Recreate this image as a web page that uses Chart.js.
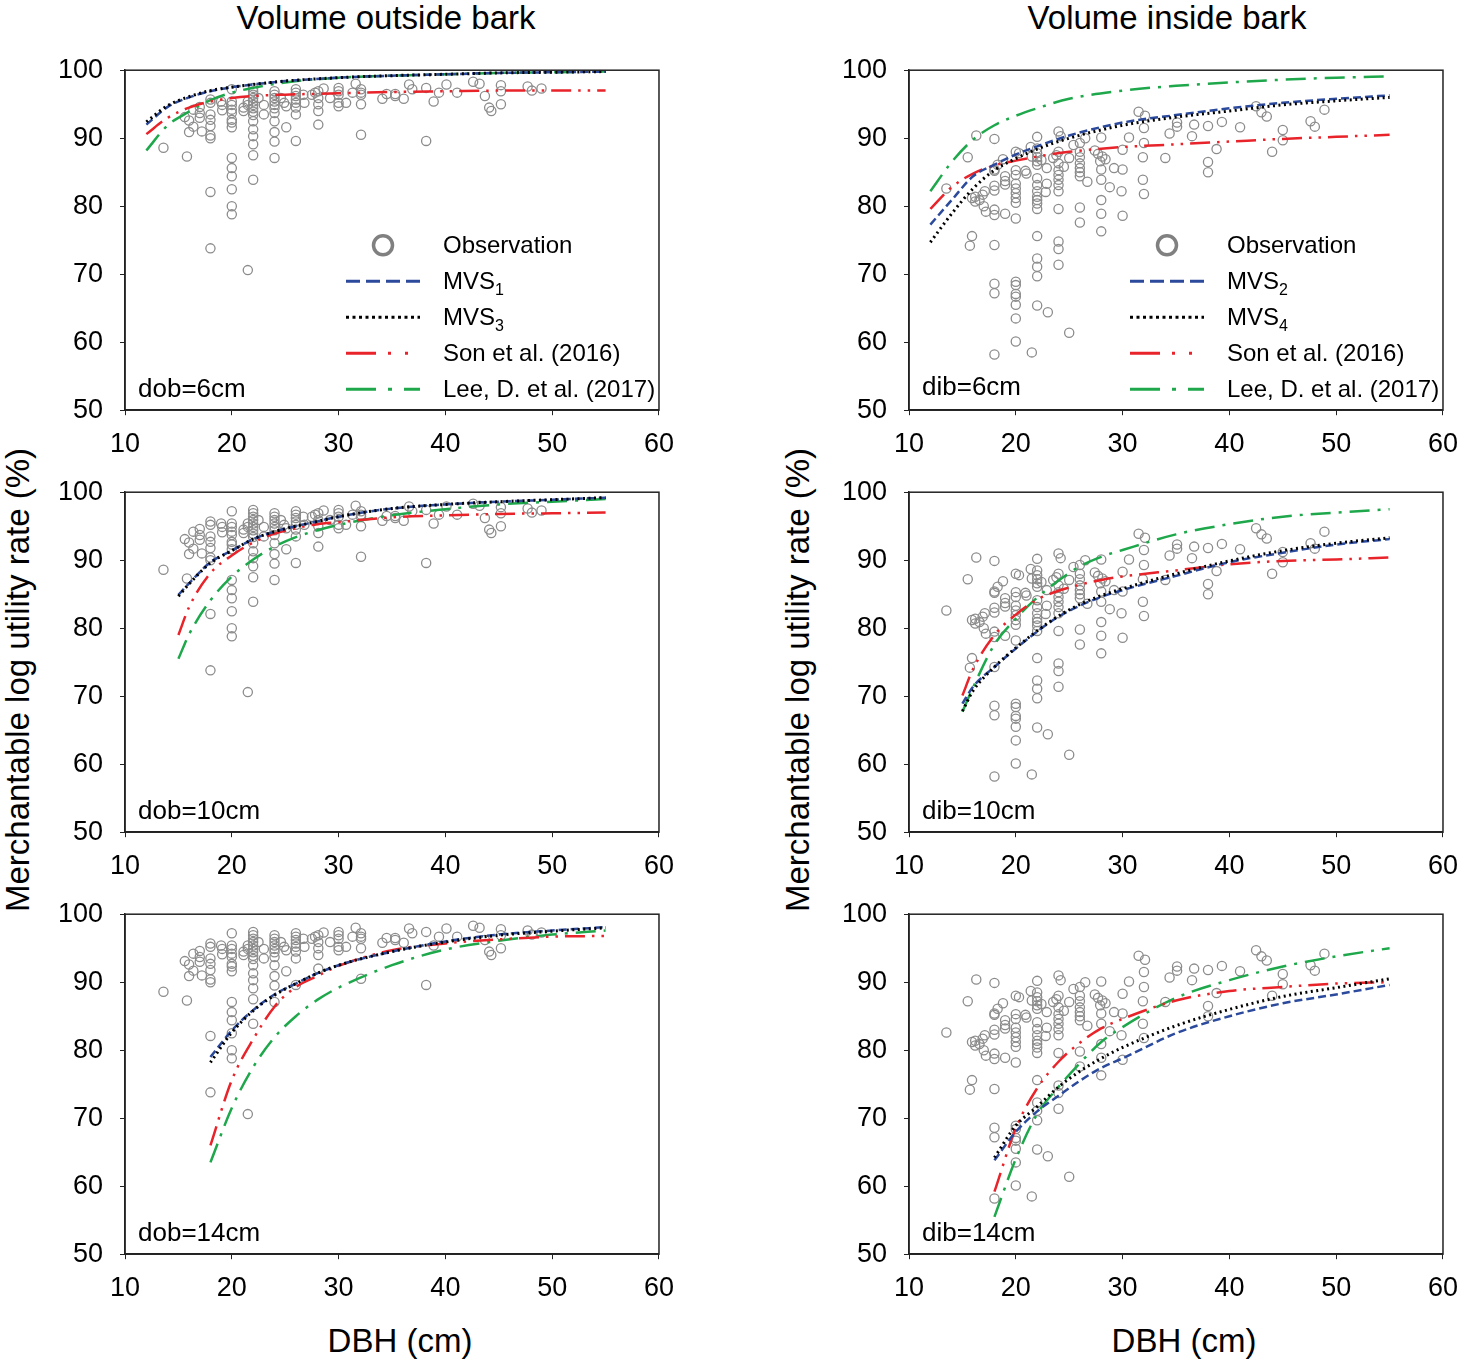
<!DOCTYPE html>
<html>
<head>
<meta charset="utf-8">
<script src="https://cdn.jsdelivr.net/npm/chart.js@4.4.0/dist/chart.umd.min.js"></script>
<style>
    body { margin: 0; background: #fff; overflow: hidden; }
    #fig { position: relative; width: 1460px; height: 1361px; overflow: hidden; font-family: "Liberation Sans", Arial, sans-serif; color: #000; }
    #fig canvas { position: absolute; }
    .txt { position: absolute; white-space: nowrap; line-height: 1; }
    .title { font-size: 33px; transform: translate(-50%, -50%); }
    .ytitle { font-size: 33px; transform: translate(-50%, -50%) rotate(-90deg); }
    .tag { font-size: 26px; transform: translateY(-50%); }
    .leg { font-size: 24px; transform: translateY(-50%); }
    .leg sub { font-size: 16px; vertical-align: -6px; line-height: 0; }
</style>
</head>
<body>
<div id="fig"></div>
<script>
// DBH grids the fitted curves were read at
const dbhTop = [12, 14, 16, 18, 20, 22, 25, 30, 35, 40, 45, 50, 55];
const dbhMid = [15, 16, 18, 20, 22, 24, 26, 28, 30, 35, 40, 45, 50, 55];
const dbhLow = [18, 20, 22, 24, 26, 28, 30, 35, 40, 45, 50, 55];

const xTicks = [10, 20, 30, 40, 50, 60];
const yTicks = [50, 60, 70, 80, 90, 100];

// observations, volume outside bark
const obOutDbh = [13.6, 15.8, 15.6, 16.0, 16.0, 16.4, 16.4, 17.0, 17.0, 17.0, 17.2,
    18, 18, 18, 18, 18, 18, 18, 18, 18, 19.0, 19.1, 19.1,
    20, 20, 20, 20, 20, 20, 20, 20, 20, 20, 20, 20, 20, 20,
    21.1, 21.1, 21.5, 21.5, 21.5,
    22, 22, 22, 22, 22, 22, 22, 22, 22, 22, 22, 22, 22, 22, 22,
    22.5, 23.0, 23.0,
    24, 24, 24, 24, 24, 24, 24, 24, 24, 24, 24,
    24.6, 24.9, 25.1, 25.1,
    26, 26, 26, 26, 26, 26, 26, 26,
    26.7, 26.8, 27.5, 27.8, 28.1, 28.1, 28.1, 28.1, 28.1, 28.6, 29.2,
    30, 30, 30, 30, 30, 30.7, 31.3, 31.6, 32.1, 32.1, 32.1, 32.1, 32.1,
    34.1, 34.5, 35.3, 35.3, 36.1, 36.6, 36.9, 38.2, 38.2, 38.9, 39.4, 40.1, 41.1,
    42.6, 43.2, 43.7, 44.1, 44.3, 45.2, 45.2, 45.2, 47.7, 48.1, 49.0];
const obOutRate = [88.6, 87.3, 93.1, 92.6, 90.9, 94.2, 91.7, 94.6, 93.7, 93.0, 91.0,
    95.7, 95.2, 93.5, 92.7, 91.8, 90.4, 90.0, 82.1, 73.8, 95.4, 94.9, 94.1,
    97.2, 95.4, 94.9, 94.2, 93.7, 92.7, 92.3, 91.6, 87.1, 85.6, 84.4, 82.5, 80.0, 78.8,
    94.5, 94.0, 70.6, 95.4, 94.9,
    97.4, 96.9, 96.4, 95.9, 95.4, 94.9, 94.4, 93.9, 93.4, 92.5, 91.3, 90.3, 89.1, 87.5, 83.9,
    95.9, 94.9, 93.5,
    96.9, 96.4, 95.9, 95.4, 94.9, 94.4, 93.7, 92.5, 90.9, 89.5, 87.1,
    95.9, 95.2, 94.7, 91.6,
    97.2, 96.7, 96.2, 95.7, 95.2, 94.5, 93.5, 89.6,
    96.4, 95.2, 96.4, 96.7, 96.9, 95.9, 95.0, 94.0, 92.0, 97.3, 95.9,
    97.4, 96.9, 96.4, 95.2, 94.7, 95.2, 96.7, 98.0, 97.2, 96.7, 96.4, 95.0, 90.5,
    95.8, 96.5, 96.5, 96.2, 95.8, 97.9, 97.2, 97.4, 89.6, 95.4, 96.7, 97.9, 96.7,
    98.3, 98.0, 96.2, 94.5, 94.0, 97.8, 96.9, 95.0, 97.6, 97.0, 97.3];

// observations, volume inside bark
const obInDbh = [13.5, 15.5, 16.3, 15.9, 16.2, 16.2, 16.6, 16.9, 17.1, 17.0, 17.2, 15.9, 15.7,
    18, 18, 18, 18, 18, 18, 18, 18, 18, 18, 18,
    18.3, 18.8, 19.0, 19.0, 19.0, 19.0,
    20.0, 20.3, 20, 20, 20, 20, 20, 20, 20, 20, 20, 20, 20, 20, 20, 20, 20,
    20.9, 21.0, 21.4, 21.5, 21.5,
    22, 22, 22, 22, 22, 22, 22, 22, 22, 22, 22, 22, 22, 22, 22, 22, 22, 22,
    22.4, 22.9, 22.9, 22.8, 23.0, 23.5, 23.8,
    24, 24.2, 24, 24, 24, 24, 24, 24, 24, 24, 24, 24, 24,
    24.5, 25.0, 25.4, 25.0,
    26, 26, 26, 26, 26, 26, 26, 26, 26, 26.5, 26.7,
    27.4, 27.7, 28.1, 27.9, 28, 28, 28, 28, 28, 28, 28.4, 28.8,
    29.2, 30, 30, 29.9, 30, 30.6,
    31.5, 32.1, 32, 32, 31.9, 31.9, 32,
    34.0, 34.4, 35.1, 35.1, 36.5, 36.7, 38, 38, 38, 38.8, 39.3, 41, 42.5, 43, 43.5, 44,
    45, 45, 47.6, 48, 48.9];
const obInRate = [82.6, 87.2, 90.4, 81.2, 81.4, 80.7, 80.9, 81.7, 82.2, 80.0, 79.2, 75.6, 74.2,
    89.9, 85.4, 85.2, 83.0, 82.3, 79.5, 78.7, 74.3, 68.6, 67.2, 58.2,
    86.1, 86.9, 84.4, 83.7, 83.2, 78.9,
    88.0, 87.8, 85.3, 84.6, 83.3, 82.6, 81.9, 81.2, 80.5, 78.2, 68.9, 68.4, 67.1, 66.7, 65.5, 63.5, 60.1,
    85.2, 84.8, 88.7, 87.3, 58.5,
    90.2, 88.5, 87.8, 87.2, 86.6, 86.1, 84.1, 83.1, 82.2, 81.4, 80.9, 80.4, 79.6, 75.6, 72.3, 71.1, 69.7, 65.4,
    86.8, 85.6, 83.3, 82.1, 64.4, 87.1, 87.5,
    91.0, 90.3, 88.0, 86.3, 85.3, 84.6, 83.9, 83.1, 82.2, 79.6, 74.8, 73.7, 71.4,
    85.8, 87.1, 89.0, 61.4,
    89.3, 88.0, 87.2, 86.3, 85.6, 85.0, 84.4, 79.8, 77.6, 90.0, 83.6,
    88.2, 87.7, 87.3, 86.6, 85.4, 83.9, 90.1, 80.9, 78.9, 76.3, 86.9, 82.8,
    85.6, 85.4, 88.3, 82.2, 78.6, 90.1,
    93.9, 93.3, 91.5, 89.3, 87.2, 83.9, 81.8,
    87.1, 90.7, 92.3, 91.7, 90.3, 92.0, 91.8, 86.5, 85.0, 88.4, 92.4, 91.6, 94.7, 93.8, 93.2, 88.0,
    91.2, 89.7, 92.5, 91.7, 94.2];

// volume outside bark curves
const out6Mvs1 = [92.0, 94.6, 96.0, 96.9, 97.5, 97.9, 98.4, 98.9, 99.2, 99.4, 99.6, 99.7, 99.8];
const out6Mvs3 = [92.4, 94.8, 96.1, 97.0, 97.5, 97.9, 98.4, 98.9, 99.2, 99.4, 99.6, 99.7, 99.8];
const out6Son = [90.6, 93.0, 94.5, 95.4, 95.9, 96.2, 96.4, 96.6, 96.8, 96.9, 97.0, 97.0, 97.0];
const out6Lee = [88.2, 91.9, 93.9, 95.6, 96.7, 97.4, 98.2, 98.9, 99.2, 99.4, 99.6, 99.7, 99.8];

const out10Mvs1 = [84.9, 86.6, 89.7, 91.4, 93.1, 94.2, 95.0, 95.7, 96.4, 97.6, 98.2, 98.6, 98.9, 99.2];
const out10Mvs3 = [84.7, 86.5, 89.6, 91.4, 93.1, 94.2, 95.0, 95.7, 96.4, 97.6, 98.2, 98.6, 98.9, 99.2];
const out10Son = [79.0, 83.1, 88.1, 90.7, 92.6, 93.9, 94.7, 95.3, 95.6, 96.3, 96.6, 96.8, 96.9, 97.0];
const out10Lee = [75.5, 79.1, 84.1, 87.6, 90.1, 92.0, 93.4, 94.4, 95.2, 96.6, 97.5, 98.2, 98.6, 99.0];

const out14Mvs1 = [79.0, 82.9, 85.9, 88.2, 89.8, 91.3, 92.5, 94.5, 96.0, 97.0, 97.6, 98.1];
const out14Mvs3 = [78.2, 82.6, 85.8, 88.1, 89.8, 91.3, 92.5, 94.5, 95.9, 96.9, 97.5, 98.0];
const out14Son = [66.0, 75.6, 81.6, 86.4, 89.3, 90.9, 92.4, 94.7, 95.7, 96.3, 96.7, 96.8];
const out14Lee = [63.5, 71.5, 77.5, 81.9, 85.0, 87.4, 89.2, 92.5, 94.8, 96.1, 97.0, 97.6];

// volume inside bark curves
const in6Mvs2 = [77.3, 80.9, 84.4, 86.1, 87.6, 88.8, 90.4, 92.3, 93.4, 94.4, 95.2, 95.8, 96.3];
const in6Mvs4 = [74.7, 78.9, 82.6, 85.3, 87.0, 88.4, 90.0, 91.9, 93.1, 94.0, 94.9, 95.5, 96.0];
const in6Son = [79.6, 82.8, 84.8, 86.0, 86.7, 87.3, 88.0, 88.7, 89.1, 89.5, 89.9, 90.2, 90.5];
const in6Lee = [82.2, 86.5, 89.8, 91.9, 93.3, 94.4, 95.8, 97.0, 97.7, 98.2, 98.6, 98.9, 99.1];

const in10Mvs2 = [68.9, 71.4, 74.3, 77.0, 79.5, 81.7, 83.3, 84.6, 85.6, 87.7, 89.7, 91.1, 92.3, 93.1];
const in10Mvs4 = [67.8, 70.8, 74.3, 77.1, 79.6, 81.8, 83.5, 84.8, 85.8, 88.0, 89.9, 91.4, 92.5, 93.3];
const in10Son = [70.1, 74.0, 79.0, 82.0, 84.2, 85.5, 86.4, 87.1, 87.6, 88.5, 89.4, 89.9, 90.1, 90.4];
const in10Lee = [67.7, 71.3, 77.6, 81.4, 84.5, 87.0, 89.1, 90.5, 91.5, 93.8, 95.3, 96.4, 97.0, 97.5];

const in14Mvs2 = [63.8, 68.0, 71.0, 73.3, 75.5, 77.4, 78.8, 82.5, 85.0, 86.9, 88.2, 89.6];
const in14Mvs4 = [64.2, 68.9, 71.7, 74.6, 76.9, 78.8, 80.4, 83.6, 86.0, 87.9, 89.2, 90.5];
const in14Son = [59.2, 68.5, 74.4, 78.3, 81.1, 83.2, 84.6, 87.3, 88.7, 89.3, 89.8, 90.0];
const in14Lee = [55.5, 64.0, 70.6, 74.6, 78.1, 81.2, 83.4, 87.7, 90.3, 92.3, 93.8, 95.0];

// dotted MVS, dashed MVS, Son, Lee
const lineStyles = [
    { color: '#000000', dash: [2, 3.5], width: 3 },
    { color: '#2c4a9c', dash: [8, 4], width: 2.5 },
    { color: '#e8232a', dash: [20, 7, 2.5, 7, 2.5, 7], width: 2.5 },
    { color: '#1ea84b', dash: [20, 8, 3, 8], width: 2.5 }
];

const colLeft = [125, 909];
const rowTop = [70, 492, 914];
const plotW = 534, plotH = 340;
const padL = 85, padT = 20, padR = 16, padB = 50;

const panels = [
    { col: 0, row: 0, dbh: dbhTop, lines: [out6Mvs3, out6Mvs1, out6Son, out6Lee], obsX: obOutDbh, obsY: obOutRate, tag: 'dob=6cm', subs: ['1', '3'] },
    { col: 0, row: 1, dbh: dbhMid, lines: [out10Mvs3, out10Mvs1, out10Son, out10Lee], obsX: obOutDbh, obsY: obOutRate, tag: 'dob=10cm' },
    { col: 0, row: 2, dbh: dbhLow, lines: [out14Mvs3, out14Mvs1, out14Son, out14Lee], obsX: obOutDbh, obsY: obOutRate, tag: 'dob=14cm' },
    { col: 1, row: 0, dbh: dbhTop, lines: [in6Mvs4, in6Mvs2, in6Son, in6Lee], obsX: obInDbh, obsY: obInRate, tag: 'dib=6cm', subs: ['2', '4'], tagDy: -2 },
    { col: 1, row: 1, dbh: dbhMid, lines: [in10Mvs4, in10Mvs2, in10Son, in10Lee], obsX: obInDbh, obsY: obInRate, tag: 'dib=10cm' },
    { col: 1, row: 2, dbh: dbhLow, lines: [in14Mvs4, in14Mvs2, in14Son, in14Lee], obsX: obInDbh, obsY: obInRate, tag: 'dib=14cm' }
];

// legend rows, relative to the plot box
const legSymL = 221, legSymR = 295, legTextX = 318;
const legRowY = [175, 211, 247, 283, 319];

const fig = document.getElementById('fig');

function addText(cls, html, left, top) {
    const d = document.createElement('div');
    d.className = 'txt ' + cls;
    d.innerHTML = html;
    d.style.left = left + 'px';
    d.style.top = top + 'px';
    fig.appendChild(d);
    return d;
}

const framePlugin = {
    id: 'frame',
    afterDatasetsDraw(chart, args, opts) {
        const a = chart.chartArea;
        const ctx = chart.ctx;
        ctx.save();
        ctx.strokeStyle = '#222';
        ctx.lineWidth = 1.5;
        ctx.setLineDash([]);
        ctx.strokeRect(a.left, a.top, a.right - a.left, a.bottom - a.top);
        if (opts.legend) {
            const x0 = a.left + legSymL, x1 = a.left + legSymR;
            ctx.beginPath();
            ctx.strokeStyle = '#808080';
            ctx.lineWidth = 3.5;
            ctx.arc(a.left + (legSymL + legSymR) / 2, a.top + legRowY[0], 9.5, 0, Math.PI * 2);
            ctx.stroke();
            // legend order: dashed MVS, dotted MVS, Son, Lee
            [1, 0, 2, 3].forEach((s, i) => {
                const st = lineStyles[s];
                const y = a.top + legRowY[i + 1];
                ctx.beginPath();
                ctx.strokeStyle = st.color;
                ctx.lineWidth = 3;
                ctx.setLineDash(s === 1 ? [14, 6] : s === 0 ? [3, 3.5] : s === 2 ? [30, 12, 3, 14, 3, 30] : [30, 12, 4, 12]);
                ctx.moveTo(x0, y);
                ctx.lineTo(x1, y);
                ctx.stroke();
            });
        }
        ctx.restore();
    }
};

Chart.defaults.font.family = '"Liberation Sans", Arial, sans-serif';
Chart.defaults.color = '#000';

panels.forEach(p => {
    const left = colLeft[p.col], top = rowTop[p.row];
    const cv = document.createElement('canvas');
    cv.width = padL + plotW + padR;
    cv.height = padT + plotH + padB;
    fig.appendChild(cv);

    const datasets = p.lines.map((ys, i) => ({
        data: p.dbh.map((x, k) => ({ x: x, y: ys[k] })),
        showLine: true,
        pointRadius: 0,
        borderColor: lineStyles[i].color,
        borderDash: lineStyles[i].dash,
        borderWidth: lineStyles[i].width,
        cubicInterpolationMode: 'monotone',
        fill: false
    }));
    datasets.push({
        data: p.obsX.map((x, k) => ({ x: x, y: p.obsY[k] })),
        showLine: false,
        pointRadius: 4.6,
        pointBorderWidth: 1.3,
        pointBorderColor: '#8c8c8c',
        pointBackgroundColor: 'rgba(0,0,0,0)'
    });

    const axisCommon = {
        type: 'linear',
        grid: { drawOnChartArea: false, drawTicks: true, tickLength: 5, tickColor: '#222', tickWidth: 1 },
        border: { display: true, color: '#222', width: 1.5 }
    };

    const chart = new Chart(cv.getContext('2d'), {
        type: 'scatter',
        data: { datasets: datasets },
        options: {
            responsive: false,
            maintainAspectRatio: false,
            animation: false,
            layout: { padding: { left: 0, top: padT, right: padR, bottom: 0 } },
            plugins: { legend: { display: false }, tooltip: { enabled: false }, frame: { legend: !!p.subs } },
            scales: {
                x: Object.assign({}, axisCommon, {
                    min: 10, max: 60,
                    ticks: { color: '#000', font: { size: 27 }, padding: 13, maxRotation: 0 },
                    afterBuildTicks: s => { s.ticks = xTicks.map(v => ({ value: v })); },
                    afterFit: s => { s.height = padB; }
                }),
                y: Object.assign({}, axisCommon, {
                    min: 50, max: 100,
                    ticks: { color: '#000', font: { size: 27 }, padding: 17 },
                    afterBuildTicks: s => { s.ticks = yTicks.map(v => ({ value: v })); },
                    afterFit: s => { s.width = padL; }
                })
            }
        },
        plugins: [framePlugin]
    });

    // resize so the plot box has the wanted size, then place it
    let a = chart.chartArea;
    chart.resize(cv.width + plotW - (a.right - a.left), cv.height + plotH - (a.bottom - a.top));
    a = chart.chartArea;
    cv.style.left = (left - a.left) + 'px';
    cv.style.top = (top - a.top) + 'px';

    addText('tag', p.tag, left + 13, top + plotH - 22 + (p.tagDy || 0));

    if (p.subs) {
        const tx = left + legTextX;
        addText('leg', 'Observation', tx, top + legRowY[0]);
        addText('leg', 'MVS<sub>' + p.subs[0] + '</sub>', tx, top + legRowY[1]);
        addText('leg', 'MVS<sub>' + p.subs[1] + '</sub>', tx, top + legRowY[2]);
        addText('leg', 'Son et al. (2016)', tx, top + legRowY[3]);
        addText('leg', 'Lee, D. et al. (2017)', tx, top + legRowY[4]);
    }
});

addText('title', 'Volume outside bark', 386, 17);
addText('title', 'Volume inside bark', 1167, 17);
addText('ytitle', 'Merchantable log utility rate (%)', 17, 680);
addText('ytitle', 'Merchantable log utility rate (%)', 797, 680);
addText('title', 'DBH (cm)', 400, 1340);
addText('title', 'DBH (cm)', 1184, 1340);
</script>
</body>
</html>
